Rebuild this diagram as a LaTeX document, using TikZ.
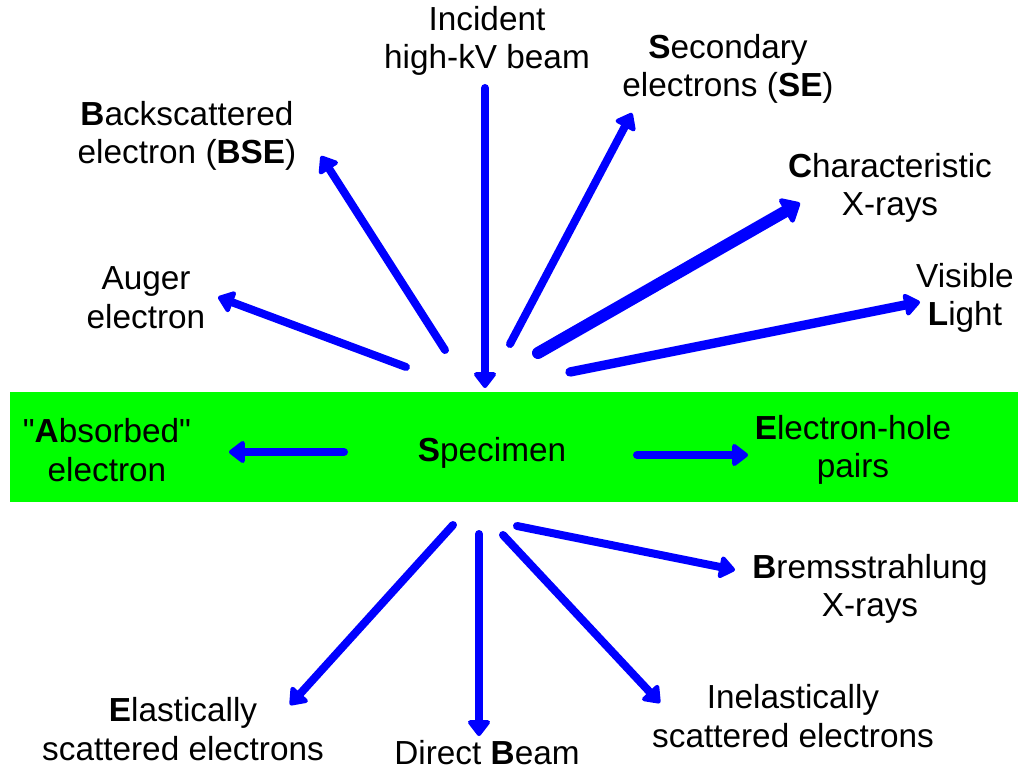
\documentclass[tikz,border=0pt]{standalone}
\usepackage{fontspec}
\setmainfont[Ligatures=TeXOff]{Liberation Sans}
\usetikzlibrary{arrows.meta}
\definecolor{specgreen}{RGB}{0,255,0}
\definecolor{rayblue}{RGB}{0,0,255}
\tikzset{
  lbl/.style={align=center, inner sep=0pt, font=\fontsize{25}{29}\selectfont, text=black},
  ray/.style={draw=rayblue, line width=6pt, line cap=round, line join=round,
    -{Triangle[length=13pt, width=19pt, round]}},
  bigray/.style={draw=rayblue, line width=9pt, line cap=round, line join=round,
    -{Triangle[length=14pt, width=24pt, round]}},
}
\begin{document}
\begin{tikzpicture}[x=0.75pt,y=-0.75pt]
\useasboundingbox (0,0) rectangle (1029,770);
\fill[specgreen] (10,392) rectangle (1018,502);

% labels
\node[lbl] (inc)   at (487,41)  {Incident\\high-kV beam};
\node[lbl] (sec)   at (728,69)  {\textbf{S}econdary\\electrons (\textbf{SE})};
\node[lbl] (bse)   at (187,136) {\textbf{B}ackscattered\\electron (\textbf{BSE})};
\node[lbl] (char)  at (890,188) {\textbf{C}haracteristic\\X-rays};
\node[lbl] (auger) at (146,298) {Auger\\electron};
\node[lbl] (vis)   at (965,298) {Visible\\\textbf{L}ight};
\node[lbl] (abs)   at (107,450) {"\textbf{A}bsorbed"\\electron};
\node[lbl] (spec)  at (492,453) {\textbf{S}pecimen};
\node[lbl] (eh)    at (853,450) {\textbf{E}lectron-hole\\pairs};
\node[lbl] (brem)  at (870,589) {\textbf{B}remsstrahlung\\X-rays};
\node[lbl] (elas)  at (183,729) {\textbf{E}lastically\\scattered electrons};
\node[lbl] (dir)   at (487,753) {Direct \textbf{B}eam};
\node[lbl] (inel)  at (793,716) {Inelastically\\scattered electrons};

% arrow end points
\coordinate (incS) at (485,88);   \coordinate (incE) at (485,388);
\coordinate (bseS) at (445,350);  \coordinate (bseE) at (321,156);
\coordinate (secS) at (510,344);  \coordinate (secE) at (632,113);
\coordinate (chS)  at (538,353);  \coordinate (chE)  at (800,203);
\coordinate (visS) at (570,372);  \coordinate (visE) at (920,302);
\coordinate (augS) at (406,367);  \coordinate (augE) at (218,297);
\coordinate (absS) at (344,452);  \coordinate (absE) at (229,452);
\coordinate (ehS)  at (637,455);  \coordinate (ehE)  at (748,455);
\coordinate (brS)  at (517,526);  \coordinate (brE)  at (735,570);
\coordinate (inS)  at (503,535);  \coordinate (inE)  at (660,703);
\coordinate (diS)  at (479,534);  \coordinate (diE)  at (479,736);
\coordinate (elS)  at (453,525);  \coordinate (elE)  at (290,705);

\draw[ray] (incS) -- (incE);
\draw[ray] (bseS) -- (bseE);
\draw[ray] (secS) -- (secE);
\draw[bigray] (chS) -- (chE);
\draw[ray, line width=7pt] (visS) -- (visE);
\draw[ray] (augS) -- (augE);
\draw[ray] (absS) -- (absE);
\draw[ray] (ehS) -- (ehE);
\draw[ray] (brS) -- (brE);
\draw[ray] (inS) -- (inE);
\draw[ray] (diS) -- (diE);
\draw[ray] (elS) -- (elE);
\end{tikzpicture}
\end{document}
